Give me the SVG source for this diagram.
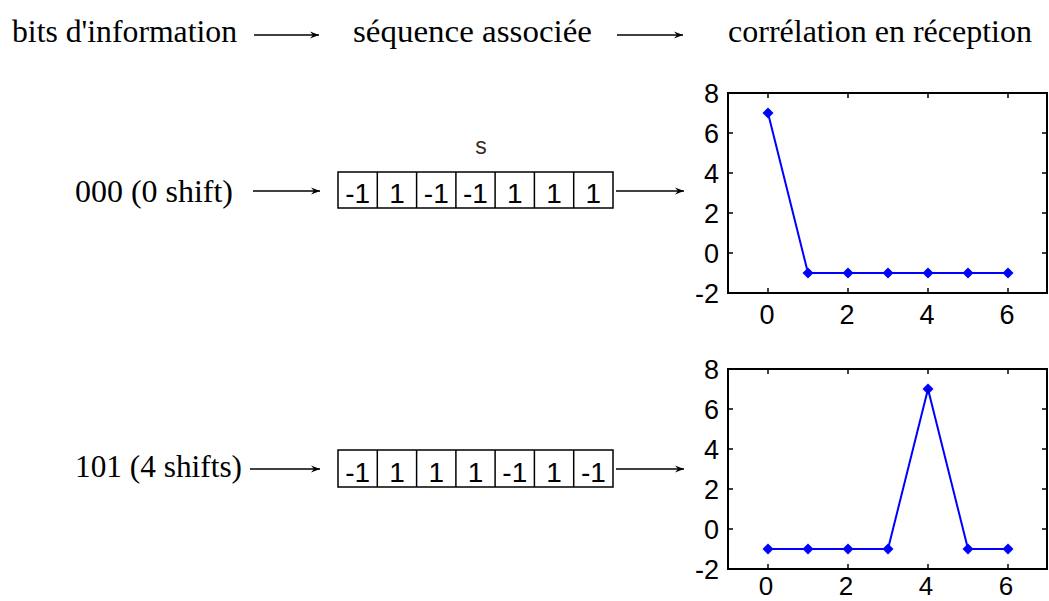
<svg xmlns="http://www.w3.org/2000/svg" width="1049" height="601" viewBox="0 0 1049 601">
<defs>
<style>
.ser{font-family:"Liberation Serif","Times New Roman",serif;font-size:32px;fill:#000}
.cell{font-family:"Liberation Sans",Arial,sans-serif;font-size:28px;fill:#000;text-anchor:middle}
.ax{font-family:"Liberation Sans",Arial,sans-serif;font-size:27px;fill:#000}
.axb{font-family:"Liberation Sans",Arial,sans-serif;font-size:26px;fill:#000}
.yl{text-anchor:end}
.xl{text-anchor:middle}
.box{fill:#fff;stroke:#000;stroke-width:1.5}
.frame{fill:none;stroke:#000;stroke-width:2}
.tick{stroke:#000;stroke-width:1.5}
.arr{stroke:#000;stroke-width:1.5;fill:none;marker-end:url(#ah)}
.curve{fill:none;stroke:#0000ff;stroke-width:2}
.mk{fill:#0000ff}
</style>
<marker id="ah" markerWidth="10" markerHeight="8" refX="9" refY="4" orient="auto" markerUnits="userSpaceOnUse">
<path d="M0,0.5 L9,4 L0,7.5 L3,4 Z" fill="#000"/>
</marker>
<path id="dm" d="M0,-5.5 L5.5,0 L0,5.5 L-5.5,0 Z"/>
</defs>
<rect width="1049" height="601" fill="#fff"/>

<g id="headings">
<text class="ser" x="12" y="42" textLength="225" lengthAdjust="spacingAndGlyphs">bits d'information</text>
<text class="ser" x="353" y="42" textLength="239" lengthAdjust="spacingAndGlyphs">séquence associée</text>
<text class="ser" x="728" y="42" textLength="304" lengthAdjust="spacingAndGlyphs">corrélation en réception</text>
</g>

<g id="label-000">
<text class="ser" x="75" y="202" textLength="158" lengthAdjust="spacingAndGlyphs">000 (0 shift)</text>
</g>
<g id="label-101">
<text class="ser" x="75" y="477" textLength="167" lengthAdjust="spacingAndGlyphs">101 (4 shifts)</text>
</g>

<g id="s-label">
<text x="481" y="154" style="font-family:'Liberation Sans',Arial,sans-serif;font-size:23px;fill:#3a2a1a;text-anchor:middle">s</text>
</g>

<g id="seq-000">
<rect class="box" x="338" y="172" width="275" height="36"/>
<g class="tick">
<line x1="377.3" y1="172" x2="377.3" y2="208"/>
<line x1="416.6" y1="172" x2="416.6" y2="208"/>
<line x1="455.9" y1="172" x2="455.9" y2="208"/>
<line x1="495.1" y1="172" x2="495.1" y2="208"/>
<line x1="534.4" y1="172" x2="534.4" y2="208"/>
<line x1="573.7" y1="172" x2="573.7" y2="208"/>
</g>
<text class="cell" x="357.6" y="203">-1</text>
<text class="cell" x="397" y="203">1</text>
<text class="cell" x="436.3" y="203">-1</text>
<text class="cell" x="475.5" y="203">-1</text>
<text class="cell" x="514.8" y="203">1</text>
<text class="cell" x="554" y="203">1</text>
<text class="cell" x="593.4" y="203">1</text>
</g>

<g id="seq-101">
<rect class="box" x="338" y="450" width="275" height="37"/>
<g class="tick">
<line x1="377.3" y1="450" x2="377.3" y2="487"/>
<line x1="416.6" y1="450" x2="416.6" y2="487"/>
<line x1="455.9" y1="450" x2="455.9" y2="487"/>
<line x1="495.1" y1="450" x2="495.1" y2="487"/>
<line x1="534.4" y1="450" x2="534.4" y2="487"/>
<line x1="573.7" y1="450" x2="573.7" y2="487"/>
</g>
<text class="cell" x="357.6" y="482">-1</text>
<text class="cell" x="397" y="482">1</text>
<text class="cell" x="436.3" y="482">1</text>
<text class="cell" x="475.5" y="482">1</text>
<text class="cell" x="514.8" y="482">-1</text>
<text class="cell" x="554" y="482">1</text>
<text class="cell" x="593.4" y="482">-1</text>
</g>

<g id="plot-000">
<rect class="frame" x="728" y="93" width="319" height="200"/>
<g class="tick">
<line x1="768" y1="93" x2="768" y2="98"/><line x1="848" y1="93" x2="848" y2="98"/><line x1="928" y1="93" x2="928" y2="98"/><line x1="1008" y1="93" x2="1008" y2="98"/>
<line x1="768" y1="293" x2="768" y2="288"/><line x1="848" y1="293" x2="848" y2="288"/><line x1="928" y1="293" x2="928" y2="288"/><line x1="1008" y1="293" x2="1008" y2="288"/>
<line x1="728" y1="133" x2="733" y2="133"/><line x1="728" y1="173" x2="733" y2="173"/><line x1="728" y1="213" x2="733" y2="213"/><line x1="728" y1="253" x2="733" y2="253"/>
<line x1="1047" y1="133" x2="1042" y2="133"/><line x1="1047" y1="173" x2="1042" y2="173"/><line x1="1047" y1="213" x2="1042" y2="213"/><line x1="1047" y1="253" x2="1042" y2="253"/>
</g>
<text class="ax yl" x="719" y="103">8</text>
<text class="ax yl" x="719" y="143">6</text>
<text class="ax yl" x="719" y="183">4</text>
<text class="ax yl" x="719" y="223">2</text>
<text class="ax yl" x="719" y="263">0</text>
<text class="ax yl" x="719" y="303">-2</text>
<text class="ax xl" x="767" y="324">0</text>
<text class="ax xl" x="847" y="324">2</text>
<text class="ax xl" x="927" y="324">4</text>
<text class="ax xl" x="1007" y="324">6</text>
<polyline class="curve" points="768,113 808,273 848,273 888,273 928,273 968,273 1008,273"/>
<g class="mk">
<use href="#dm" x="768" y="113"/><use href="#dm" x="808" y="273"/><use href="#dm" x="848" y="273"/><use href="#dm" x="888" y="273"/><use href="#dm" x="928" y="273"/><use href="#dm" x="968" y="273"/><use href="#dm" x="1008" y="273"/>
</g>
</g>

<g id="plot-101">
<rect class="frame" x="728" y="369" width="319" height="200"/>
<g class="tick">
<line x1="768" y1="369" x2="768" y2="374"/><line x1="848" y1="369" x2="848" y2="374"/><line x1="928" y1="369" x2="928" y2="374"/><line x1="1008" y1="369" x2="1008" y2="374"/>
<line x1="768" y1="569" x2="768" y2="564"/><line x1="848" y1="569" x2="848" y2="564"/><line x1="928" y1="569" x2="928" y2="564"/><line x1="1008" y1="569" x2="1008" y2="564"/>
<line x1="728" y1="409" x2="733" y2="409"/><line x1="728" y1="449" x2="733" y2="449"/><line x1="728" y1="489" x2="733" y2="489"/><line x1="728" y1="529" x2="733" y2="529"/>
<line x1="1047" y1="409" x2="1042" y2="409"/><line x1="1047" y1="449" x2="1042" y2="449"/><line x1="1047" y1="489" x2="1042" y2="489"/><line x1="1047" y1="529" x2="1042" y2="529"/>
</g>
<text class="ax yl" x="719" y="379">8</text>
<text class="ax yl" x="719" y="419">6</text>
<text class="ax yl" x="719" y="459">4</text>
<text class="ax yl" x="719" y="499">2</text>
<text class="ax yl" x="719" y="539">0</text>
<text class="ax yl" x="719" y="579">-2</text>
<text class="axb xl" x="766" y="595">0</text>
<text class="axb xl" x="846" y="595">2</text>
<text class="axb xl" x="926" y="595">4</text>
<text class="axb xl" x="1006" y="595">6</text>
<polyline class="curve" points="768,549 808,549 848,549 888,549 928,389 968,549 1008,549"/>
<g class="mk">
<use href="#dm" x="768" y="549"/><use href="#dm" x="808" y="549"/><use href="#dm" x="848" y="549"/><use href="#dm" x="888" y="549"/><use href="#dm" x="928" y="389"/><use href="#dm" x="968" y="549"/><use href="#dm" x="1008" y="549"/>
</g>
</g>

<g id="connectors">
<line class="arr" x1="254" y1="35" x2="319" y2="35"/>
<line class="arr" x1="617" y1="35" x2="683" y2="35"/>
<line class="arr" x1="253" y1="191" x2="320" y2="191"/>
<line class="arr" x1="616" y1="191" x2="684" y2="191"/>
<line class="arr" x1="250" y1="469" x2="320" y2="469"/>
<line class="arr" x1="616" y1="469" x2="684" y2="469"/>
</g>
</svg>
